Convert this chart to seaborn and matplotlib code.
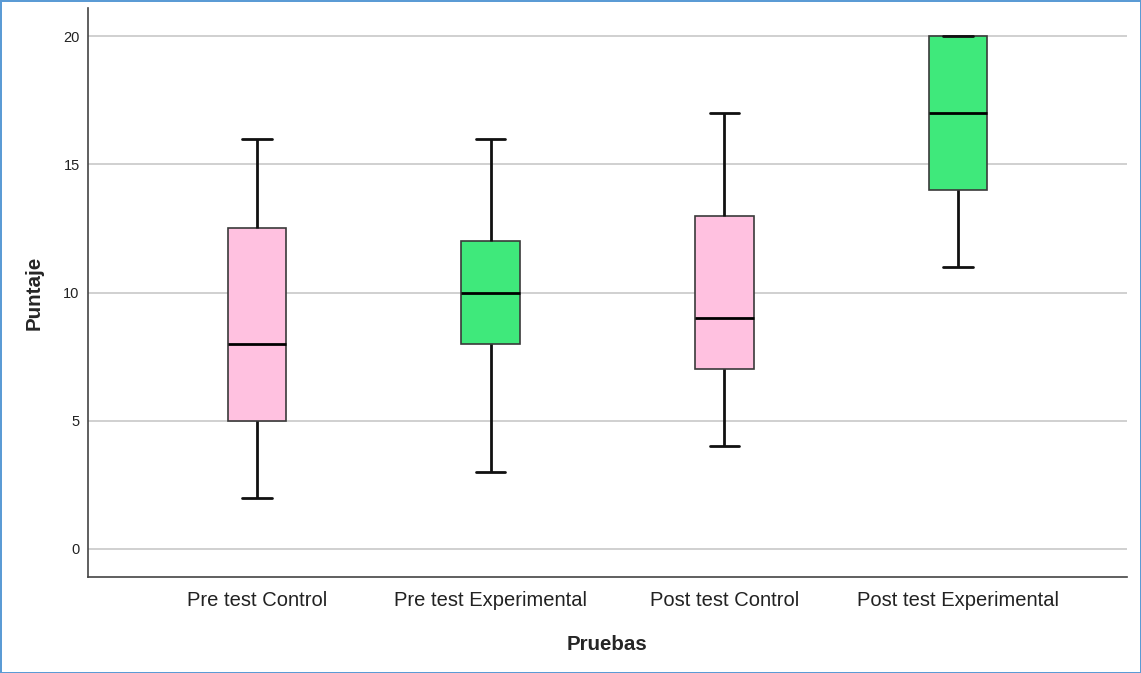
import numpy as np
import pandas as pd
import matplotlib
matplotlib.use("Agg")
import matplotlib.pyplot as plt
import seaborn as sns

# five-number summaries: min, Q1, median, Q3, max
groups = ["Pre test Control", "Pre test Experimental", "Post test Control", "Post test Experimental"]
pre_control = [2, 5, 8, 12.5, 16]
pre_experimental = [3, 8, 10, 12, 16]
post_control = [4, 7, 9, 13, 17]
post_experimental = [11, 14, 17, 20, 20]
box_colors = ["#FFC1E0", "#3FE97B", "#FFC1E0", "#3FE97B"]

values = [pre_control, pre_experimental, post_control, post_experimental]
df = pd.DataFrame({
    "Pruebas": np.repeat(groups, 5),
    "Puntaje": np.concatenate(values),
})

sns.set_style("white")
plt.rcParams["font.family"] = ["Liberation Sans", "DejaVu Sans"]

fig = plt.figure(figsize=(11.41, 6.73), dpi=100, edgecolor="#5B9BD5", linewidth=2)
ax = fig.add_axes([88 / 1141, 1 - 577 / 673, (1127 - 88) / 1141, (577 - 8) / 673])

sns.boxplot(data=df, x="Pruebas", y="Puntaje", hue="Pruebas", order=groups,
            palette=dict(zip(groups, box_colors)), legend=False, saturation=1,
            whis=(0, 100), width=0.25, ax=ax,
            boxprops=dict(edgecolor="#3a3a3a", linewidth=1.2),
            medianprops=dict(color="black", linewidth=2),
            whiskerprops=dict(color="#111111", linewidth=2),
            capprops=dict(color="#111111", linewidth=2),
            showfliers=False)

ax.set_ylim(-1.1, 21.1)
ax.set_xlim(-0.723, 3.723)
ax.set_yticks([0, 5, 10, 15, 20])
ax.yaxis.grid(True, color="#C8C8C8", linewidth=1.2)
ax.set_axisbelow(True)
for s in ["top", "right"]:
    ax.spines[s].set_visible(False)
for s in ["left", "bottom"]:
    ax.spines[s].set_color("#444444")
    ax.spines[s].set_linewidth(1.2)
ax.tick_params(axis="both", length=0, colors="#222222")
ax.tick_params(axis="y", labelsize=10.5, pad=6)
ax.tick_params(axis="x", labelsize=14.5, pad=10)
ax.set_xlabel("Pruebas", fontsize=14.8, fontweight="bold", labelpad=18)
ax.set_ylabel("Puntaje", fontsize=14.8, fontweight="bold", labelpad=14)

fig.savefig("out.png", dpi=100, edgecolor=fig.get_edgecolor())
